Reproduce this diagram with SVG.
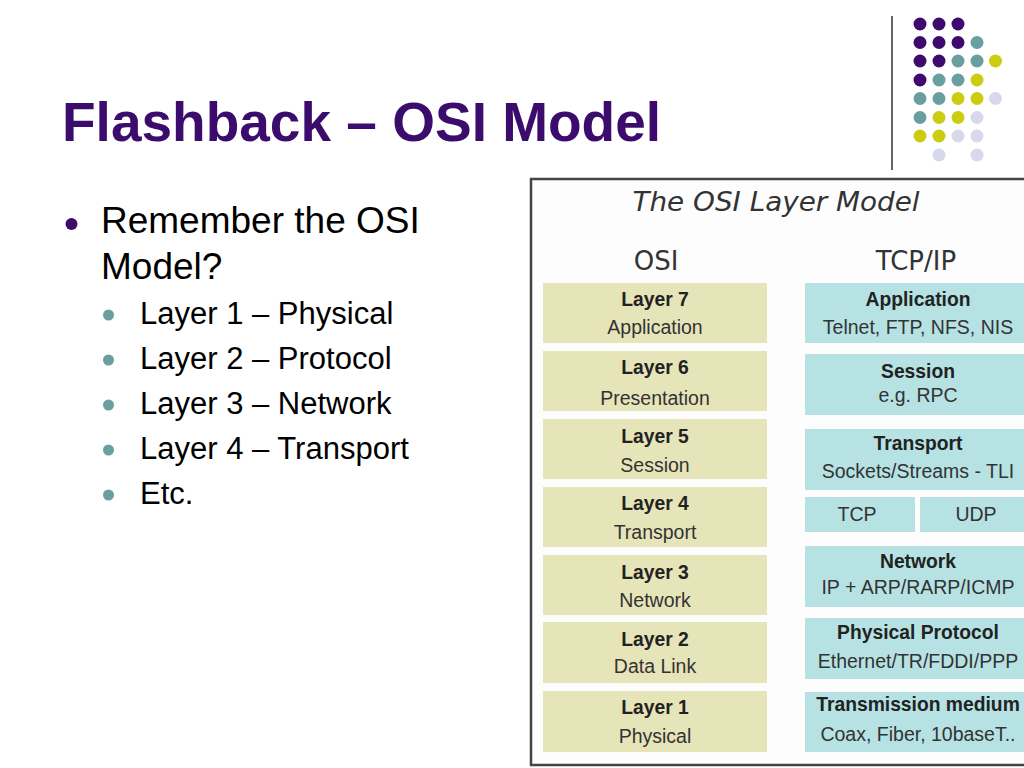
<svg xmlns="http://www.w3.org/2000/svg" width="1024" height="768" viewBox="0 0 1024 768">
<style>
.title{font-family:"Liberation Sans",Arial,sans-serif;font-weight:bold;font-size:55px;fill:#3b0c6c}
.b1{font-family:"Liberation Sans",Arial,sans-serif;font-size:37px;fill:#000}
.b2{font-family:"Liberation Sans",Arial,sans-serif;font-size:31px;fill:#000}
.osi{fill:#e6e4b9}
.tcp{fill:#b6e2e4}
.hd{font-family:"Liberation Sans",Arial,sans-serif;font-weight:bold;font-size:19.3px;fill:#222;text-anchor:middle}
.sub{font-family:"Liberation Sans",Arial,sans-serif;font-size:19.5px;fill:#333;text-anchor:middle}
.col{font-family:"DejaVu Sans",Verdana,sans-serif;font-size:26px;fill:#333;text-anchor:middle}
.dp{fill:#3f0a6e}.dt{fill:#6a9fa0}.dy{fill:#cccc10}.dl{fill:#d8d8ec}
</style>
<rect width="1024" height="768" fill="#fff"/>
<g id="logo">
<line x1="892" y1="16" x2="892" y2="170" stroke="#333" stroke-width="1.5"/>
<g>
<circle class="dp" cx="920" cy="24" r="6.5"/><circle class="dp" cx="939" cy="24" r="6.5"/><circle class="dp" cx="958" cy="24" r="6.5"/>
<circle class="dp" cx="920" cy="42.5" r="6.5"/><circle class="dp" cx="939" cy="42.5" r="6.5"/><circle class="dp" cx="958" cy="42.5" r="6.5"/><circle class="dt" cx="977" cy="42.5" r="6.5"/>
<circle class="dp" cx="920" cy="61" r="6.5"/><circle class="dp" cx="939" cy="61" r="6.5"/><circle class="dt" cx="958" cy="61" r="6.5"/><circle class="dt" cx="977" cy="61" r="6.5"/><circle class="dy" cx="995.5" cy="61" r="6.5"/>
<circle class="dp" cx="920" cy="80" r="6.5"/><circle class="dt" cx="939" cy="80" r="6.5"/><circle class="dt" cx="958" cy="80" r="6.5"/><circle class="dy" cx="977" cy="80" r="6.5"/>
<circle class="dt" cx="920" cy="98.5" r="6.5"/><circle class="dt" cx="939" cy="98.5" r="6.5"/><circle class="dy" cx="958" cy="98.5" r="6.5"/><circle class="dy" cx="977" cy="98.5" r="6.5"/><circle class="dl" cx="995.5" cy="98.5" r="6.5"/>
<circle class="dt" cx="920" cy="117.5" r="6.5"/><circle class="dy" cx="939" cy="117.5" r="6.5"/><circle class="dy" cx="958" cy="117.5" r="6.5"/><circle class="dl" cx="977" cy="117.5" r="6.5"/>
<circle class="dy" cx="920" cy="136" r="6.5"/><circle class="dy" cx="939" cy="136" r="6.5"/><circle class="dl" cx="958" cy="136" r="6.5"/><circle class="dl" cx="977" cy="136" r="6.5"/>
<circle class="dl" cx="939" cy="155" r="6.5"/><circle class="dl" cx="977" cy="155" r="6.5"/>
</g>
</g>
<g id="title"><text class="title" x="62" y="141">Flashback – OSI Model</text></g>
<g id="bullets">
<circle class="dp" cx="71.5" cy="224" r="6"/>
<text class="b1" x="101" y="233">Remember the OSI</text>
<text class="b1" x="101" y="279">Model?</text>
<circle class="dt" cx="108.5" cy="315" r="5.5"/><text class="b2" x="140" y="324">Layer 1 – Physical</text>
<circle class="dt" cx="108.5" cy="360" r="5.5"/><text class="b2" x="140" y="369">Layer 2 – Protocol</text>
<circle class="dt" cx="108.5" cy="405" r="5.5"/><text class="b2" x="140" y="414">Layer 3 – Network</text>
<circle class="dt" cx="108.5" cy="450" r="5.5"/><text class="b2" x="140" y="459">Layer 4 – Transport</text>
<circle class="dt" cx="108.5" cy="495" r="5.5"/><text class="b2" x="140" y="504">Etc.</text>
</g>
<g id="figure">
<rect x="531" y="179" width="500" height="586" fill="#fdfdfd" stroke="#444" stroke-width="2.5"/>
<text x="776" y="211" font-family="DejaVu Sans,Verdana,sans-serif" font-style="italic" font-size="26" fill="#333" text-anchor="middle" textLength="287" lengthAdjust="spacingAndGlyphs">The OSI Layer Model</text>
<text class="col" x="656" y="270">OSI</text>
<text class="col" x="916" y="270">TCP/IP</text>
</g>
<g id="osi-7"><rect class="osi" x="543" y="283" width="224" height="60"/><text class="hd" x="655" y="306">Layer 7</text><text class="sub" x="655" y="334">Application</text></g>
<g id="osi-6"><rect class="osi" x="543" y="351" width="224" height="60"/><text class="hd" x="655" y="374">Layer 6</text><text class="sub" x="655" y="405">Presentation</text></g>
<g id="osi-5"><rect class="osi" x="543" y="419" width="224" height="60"/><text class="hd" x="655" y="443">Layer 5</text><text class="sub" x="655" y="472">Session</text></g>
<g id="osi-4"><rect class="osi" x="543" y="487" width="224" height="60"/><text class="hd" x="655" y="510">Layer 4</text><text class="sub" x="655" y="539">Transport</text></g>
<g id="osi-3"><rect class="osi" x="543" y="555" width="224" height="60"/><text class="hd" x="655" y="579">Layer 3</text><text class="sub" x="655" y="607">Network</text></g>
<g id="osi-2"><rect class="osi" x="543" y="622" width="224" height="61"/><text class="hd" x="655" y="646">Layer 2</text><text class="sub" x="655" y="673">Data Link</text></g>
<g id="osi-1"><rect class="osi" x="543" y="691" width="224" height="61"/><text class="hd" x="655" y="714">Layer 1</text><text class="sub" x="655" y="743">Physical</text></g>
<g id="tcp-app"><rect class="tcp" x="805" y="283" width="226" height="60"/><text class="hd" x="918" y="306">Application</text><text class="sub" x="918" y="334">Telnet, FTP, NFS, NIS</text></g>
<g id="tcp-session"><rect class="tcp" x="805" y="354" width="226" height="61"/><text class="hd" x="918" y="378">Session</text><text class="sub" x="918" y="402">e.g. RPC</text></g>
<g id="tcp-transport"><rect class="tcp" x="805" y="429" width="226" height="61"/><text class="hd" x="918" y="450">Transport</text><text class="sub" x="918" y="478">Sockets/Streams - TLI</text></g>
<g id="tcp-tcp"><rect class="tcp" x="805" y="497" width="110" height="35"/><text class="sub" x="857" y="521">TCP</text></g>
<g id="tcp-udp"><rect class="tcp" x="920" y="497" width="111" height="35"/><text class="sub" x="976" y="521">UDP</text></g>
<g id="tcp-network"><rect class="tcp" x="805" y="546" width="226" height="61"/><text class="hd" x="918" y="568">Network</text><text class="sub" x="918" y="594">IP + ARP/RARP/ICMP</text></g>
<g id="tcp-phys"><rect class="tcp" x="805" y="618" width="226" height="61"/><text class="hd" x="918" y="639">Physical Protocol</text><text class="sub" x="918" y="668">Ethernet/TR/FDDI/PPP</text></g>
<g id="tcp-medium"><rect class="tcp" x="805" y="692" width="226" height="60"/><text class="hd" x="918" y="711">Transmission medium</text><text class="sub" x="918" y="741">Coax, Fiber, 10baseT..</text></g>
<g id="connectors"/>
</svg>
